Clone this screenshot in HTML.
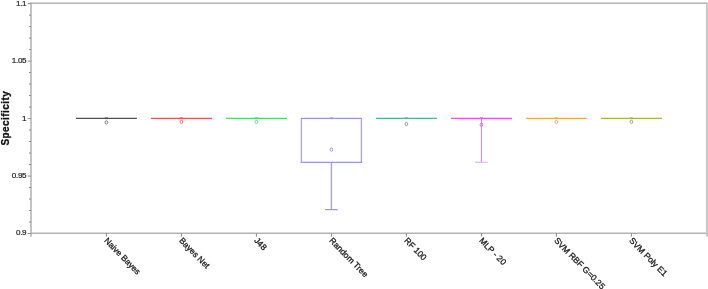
<!DOCTYPE html><html><head><meta charset="utf-8"><style>html,body{margin:0;padding:0;background:#fff;}body{width:708px;height:289px;overflow:hidden;}svg{display:block;will-change:transform;}text{font-family:"Liberation Sans",sans-serif;}</style></head><body>
<svg width="708" height="289" viewBox="0 0 708 289">
<g stroke="#b4b4b4" stroke-width="1.6" fill="none">
<line x1="31.0" y1="2.5" x2="31.0" y2="236.7"/>
<line x1="30.2" y1="233.2" x2="707.6999999999999" y2="233.2"/>
<line x1="30.2" y1="3.3" x2="707.6999999999999" y2="3.3"/>
<line x1="706.9" y1="2.5" x2="706.9" y2="236.7" stroke="#c8c8c8" stroke-width="2"/>
</g>
<g stroke="#8a8a8a" stroke-width="1" fill="none">
<line x1="27.6" y1="3.60" x2="31.0" y2="3.60"/>
<line x1="29.0" y1="15.10" x2="31.0" y2="15.10"/>
<line x1="29.0" y1="26.59" x2="31.0" y2="26.59"/>
<line x1="29.0" y1="38.09" x2="31.0" y2="38.09"/>
<line x1="29.0" y1="49.58" x2="31.0" y2="49.58"/>
<line x1="27.6" y1="61.08" x2="31.0" y2="61.08"/>
<line x1="29.0" y1="72.57" x2="31.0" y2="72.57"/>
<line x1="29.0" y1="84.07" x2="31.0" y2="84.07"/>
<line x1="29.0" y1="95.56" x2="31.0" y2="95.56"/>
<line x1="29.0" y1="107.06" x2="31.0" y2="107.06"/>
<line x1="27.6" y1="118.55" x2="31.0" y2="118.55"/>
<line x1="29.0" y1="130.04" x2="31.0" y2="130.04"/>
<line x1="29.0" y1="141.54" x2="31.0" y2="141.54"/>
<line x1="29.0" y1="153.03" x2="31.0" y2="153.03"/>
<line x1="29.0" y1="164.53" x2="31.0" y2="164.53"/>
<line x1="27.6" y1="176.03" x2="31.0" y2="176.03"/>
<line x1="29.0" y1="187.52" x2="31.0" y2="187.52"/>
<line x1="29.0" y1="199.02" x2="31.0" y2="199.02"/>
<line x1="29.0" y1="210.51" x2="31.0" y2="210.51"/>
<line x1="29.0" y1="222.00" x2="31.0" y2="222.00"/>
<line x1="27.6" y1="233.50" x2="31.0" y2="233.50"/>
<line x1="106.40" y1="233.2" x2="106.40" y2="236.7"/>
<line x1="181.40" y1="233.2" x2="181.40" y2="236.7"/>
<line x1="256.40" y1="233.2" x2="256.40" y2="236.7"/>
<line x1="331.40" y1="233.2" x2="331.40" y2="236.7"/>
<line x1="406.40" y1="233.2" x2="406.40" y2="236.7"/>
<line x1="481.40" y1="233.2" x2="481.40" y2="236.7"/>
<line x1="556.40" y1="233.2" x2="556.40" y2="236.7"/>
<line x1="631.40" y1="233.2" x2="631.40" y2="236.7"/>
</g>
<g font-size="8.1" letter-spacing="-0.3" fill="#1c1c1c" stroke="#1c1c1c" stroke-width="0.2" text-anchor="end">
<text x="26.3" y="6.30">1.1</text>
<text x="26.3" y="63.18">1.05</text>
<text x="26.3" y="120.75">1</text>
<text x="26.3" y="177.93">0.95</text>
<text x="26.3" y="235.44">0.9</text>
</g>
<text transform="translate(9.0,118.2) rotate(-90)" text-anchor="middle" font-size="10" letter-spacing="0.42" font-weight="bold" fill="#111" stroke="#111" stroke-width="0.3">Specificity</text>
<g stroke="#505050" fill="none" stroke-width="1.25">
<line x1="75.90" y1="118.40" x2="136.90" y2="118.40"/>
<ellipse cx="106.40" cy="122.40" rx="1.35" ry="1.65" stroke-width="0.95" stroke="#777777"/>
<line x1="104.80" y1="118.20" x2="108.00" y2="118.20" stroke-width="1.9" opacity="0.75"/>
</g>
<g stroke="#dc5c5c" fill="none" stroke-width="1.25">
<line x1="150.90" y1="118.40" x2="211.90" y2="118.40"/>
<ellipse cx="181.40" cy="121.90" rx="1.35" ry="1.65" stroke-width="0.95" stroke="#dc7a7a"/>
<line x1="179.80" y1="118.20" x2="183.00" y2="118.20" stroke-width="1.9" opacity="0.75"/>
</g>
<g stroke="#5ccc78" fill="none" stroke-width="1.25">
<line x1="225.90" y1="118.40" x2="286.90" y2="118.40"/>
<ellipse cx="256.40" cy="121.90" rx="1.35" ry="1.65" stroke-width="0.95" stroke="#80cc94"/>
<line x1="254.80" y1="118.20" x2="258.00" y2="118.20" stroke-width="1.9" opacity="0.75"/>
</g>
<g stroke="#9c94e4" fill="none" stroke-width="1.25">
<line x1="331.40" y1="162.25" x2="331.40" y2="209.64" stroke="#aaa5d8" stroke-width="1.45"/>
<line x1="325.00" y1="209.64" x2="337.80" y2="209.64" stroke="#9690e6" stroke-width="1.15"/>
<line x1="301.40" y1="118.40" x2="301.40" y2="162.25" stroke="#aaa2f0" stroke-width="1.35"/>
<line x1="361.40" y1="118.40" x2="361.40" y2="162.25" stroke="#aaa2f0" stroke-width="1.35"/>
<line x1="300.60" y1="162.25" x2="362.20" y2="162.25"/>
<line x1="300.90" y1="118.40" x2="361.90" y2="118.40"/>
<ellipse cx="331.40" cy="149.60" rx="1.35" ry="1.65" stroke-width="0.95" stroke="#9c94e0"/>
<line x1="329.80" y1="118.20" x2="333.00" y2="118.20" stroke-width="1.9" opacity="0.75"/>
</g>
<g stroke="#5aaa9e" fill="none" stroke-width="1.25">
<line x1="375.90" y1="118.40" x2="436.90" y2="118.40"/>
<ellipse cx="406.40" cy="124.00" rx="1.35" ry="1.65" stroke-width="0.95" stroke="#909898"/>
<line x1="404.80" y1="118.20" x2="408.00" y2="118.20" stroke-width="1.9" opacity="0.75"/>
</g>
<g stroke="#e05ade" fill="none" stroke-width="1.25">
<line x1="481.40" y1="118.45" x2="481.40" y2="162.28" stroke="#e488e4" stroke-width="1.2"/>
<line x1="475.00" y1="162.28" x2="487.80" y2="162.28" stroke="#d8bce4" stroke-width="1.15"/>
<line x1="450.90" y1="118.40" x2="511.90" y2="118.40"/>
<ellipse cx="481.40" cy="124.80" rx="1.35" ry="1.65" stroke-width="0.95" stroke="#e070dc"/>
<line x1="479.80" y1="118.20" x2="483.00" y2="118.20" stroke-width="1.9" opacity="0.75"/>
</g>
<g stroke="#eaa852" fill="none" stroke-width="1.25">
<line x1="525.90" y1="118.40" x2="586.90" y2="118.40"/>
<ellipse cx="556.40" cy="121.90" rx="1.35" ry="1.65" stroke-width="0.95" stroke="#e2b070"/>
<line x1="554.80" y1="118.20" x2="558.00" y2="118.20" stroke-width="1.9" opacity="0.75"/>
</g>
<g stroke="#a8b052" fill="none" stroke-width="1.25">
<line x1="600.90" y1="118.40" x2="661.90" y2="118.40"/>
<ellipse cx="631.40" cy="121.80" rx="1.35" ry="1.65" stroke-width="0.95" stroke="#a0a070"/>
<line x1="629.80" y1="118.20" x2="633.00" y2="118.20" stroke-width="1.9" opacity="0.75"/>
</g>
<g font-size="8.5" fill="#1a1a1a" stroke="#1a1a1a" stroke-width="0.3">
<text transform="translate(108.20,236.6) rotate(45.5)" x="0" y="0" dominant-baseline="hanging">Naive Bayes</text>
<text transform="translate(183.20,236.6) rotate(45.5)" x="0" y="0" dominant-baseline="hanging">Bayes Net</text>
<text transform="translate(258.20,236.6) rotate(45.5)" x="0" y="0" dominant-baseline="hanging">J48</text>
<text transform="translate(333.20,236.6) rotate(45.5)" x="0" y="0" dominant-baseline="hanging">Random Tree</text>
<text transform="translate(408.20,236.6) rotate(45.5)" x="0" y="0" dominant-baseline="hanging">RF 100</text>
<text transform="translate(483.20,236.6) rotate(45.5)" x="0" y="0" dominant-baseline="hanging">MLP - 20</text>
<text transform="translate(558.20,236.6) rotate(45.5)" x="0" y="0" dominant-baseline="hanging">SVM RBF G=0.25</text>
<text transform="translate(633.20,236.6) rotate(45.5)" x="0" y="0" dominant-baseline="hanging">SVM Poly E1</text>
</g>
</svg></body></html>
